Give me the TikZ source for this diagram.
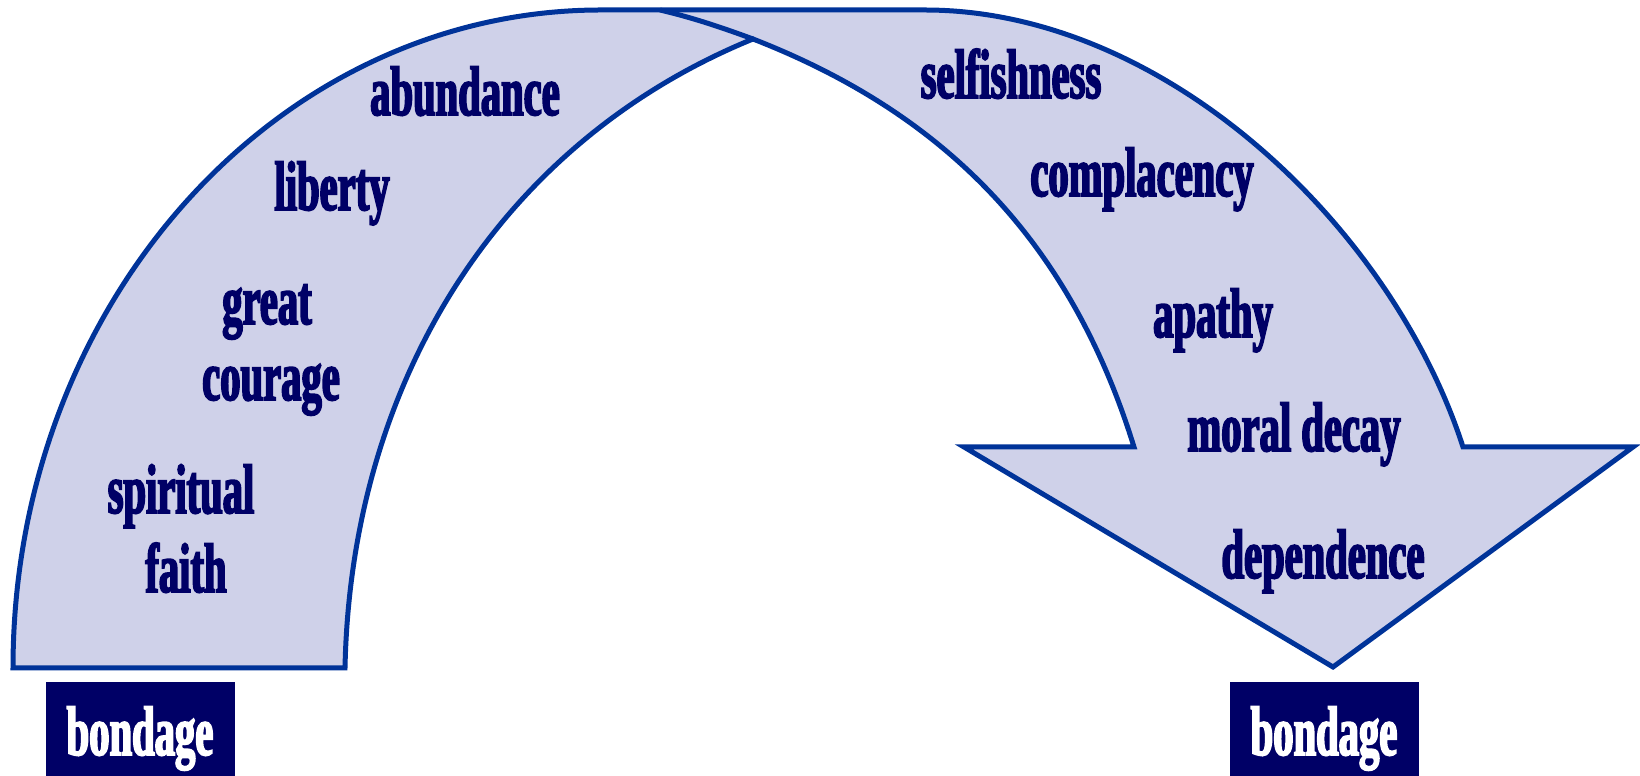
\documentclass[tikz,border=0pt]{standalone}
\usepackage{fontspec}
\newfontfamily\wordfont[FakeStretch=0.58,FakeBold=2.5]{Liberation Serif}
\usetikzlibrary{positioning}
\definecolor{navy}{RGB}{0,0,102}
\definecolor{edgeblue}{RGB}{0,51,153}
\definecolor{bandfill}{RGB}{207,209,233}

\begin{document}
\begin{tikzpicture}[
  x=0.5pt, y=0.5pt,
  font=\wordfont\bfseries\fontsize{35}{40}\selectfont,
  word/.style={text=navy, anchor=base, inner sep=0pt},
  tag/.style={fill=navy, text=white, anchor=base, inner sep=0pt, minimum width=94.5pt, text height=36.5pt, text depth=10.5pt},
  band/.style={draw=edgeblue, fill=bandfill, line width=2.5pt}
]
\useasboundingbox (0,0) rectangle (1640,776);

% rising band and falling arrow
\draw[band] (13,108) .. controls (13,471) and (276,766) .. (601,766)
  -- (925,766) .. controls (1165,766) and (1392,549) .. (1463,329)
  -- (1633,329) -- (1333,109) -- (964,329) -- (1134,329)
  .. controls (1066,549) and (930,668) .. (753,737) coordinate (cross)
  .. controls (503,635) and (351,398) .. (345,108) -- cycle;
\draw[edgeblue, line width=2.5pt] (cross) .. controls (723,748) and (694,758) .. (660,766);

% way up
\node[word] (faith) at (186,184) {faith};
\node[word] (spiritual) at (181,263) {spiritual};
\node[word] (courage) at (271,376) {courage};
\node[word] (great) at (267,452) {great};
\node[word] (liberty) at (332,566) {liberty};
\node[word] (abundance) at (465,661) {abundance};

% way down
\node[word] (selfishness) at (1011,678) {selfishness};
\node[word] (complacency) at (1142,580) {complacency};
\node[word] (apathy) at (1213,439) {apathy};
\node[word] (decay) at (1294,325) {moral decay};
\node[word] (dependence) at (1323,198) {dependence};

\node[tag] (bondL) at (140,21) {bondage};
\node[tag] (bondR) at (1324,21) {bondage};
\end{tikzpicture}
\end{document}
